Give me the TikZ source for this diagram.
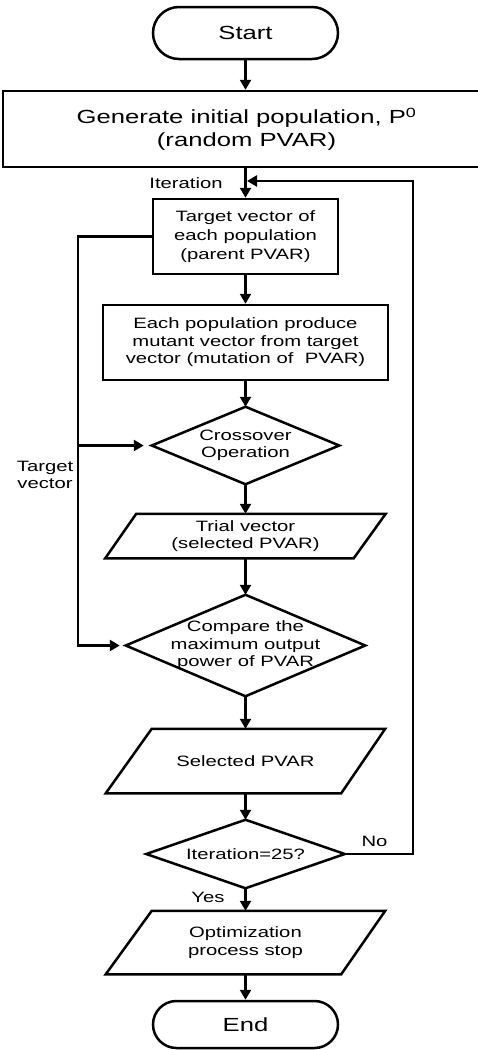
\documentclass[tikz,border=0pt]{standalone}
\usepackage{fontspec}
\newfontfamily\diafont[FakeStretch=1.35]{Liberation Sans}
\usetikzlibrary{arrows.meta}
\begin{document}
\begin{tikzpicture}[x=1pt,y=-1pt,line width=2.5pt,line join=miter,
  txt/.style={font=\diafont\fontsize{15}{17.5}\selectfont,align=center,inner sep=0pt},
  bigtxt/.style={font=\diafont\fontsize{19}{23}\selectfont,align=center,inner sep=0pt},
  boxn/.style={txt,draw,rectangle},
  shapen/.style={txt,rectangle},
  term/.style={bigtxt,draw,rectangle,minimum width=185pt},
  arr/.style={-{Triangle[length=10pt,width=11pt]}}]
\useasboundingbox (0,0) rectangle (478,1050);
% nodes
\node[term,minimum height=52pt,rounded corners=26pt] (start) at (245.5,33) {Start};
\node[bigtxt,draw,rectangle,minimum width=487pt,minimum height=76pt] (gen) at (246.5,129)
  {Generate initial population, P\textsuperscript{0}\\(random PVAR)};
\node[boxn,minimum width=185pt,minimum height=75pt,font=\diafont\fontsize{15}{19}\selectfont] (target) at (245.5,236.5)
  {Target vector of\\each population\\(parent PVAR)};
\node[boxn,minimum width=285pt,minimum height=75pt] (each) at (245.5,342.5)
  {Each population produce\\mutant vector from target\\vector (mutation of\ \ PVAR)};
\node[shapen,minimum width=185pt,minimum height=75pt] (cross) at (245.5,445.5)
  {Crossover\\Operation};
\node[shapen,minimum width=278pt,minimum height=42pt] (trial) at (245.5,536)
  {Trial vector\\(selected PVAR)};
\node[shapen,minimum width=237pt,minimum height=99pt] (cmp) at (245.5,645.5)
  {Compare the\\maximum output\\power of PVAR};
\node[shapen,minimum width=277pt,minimum height=62pt] (sel) at (245.5,761)
  {Selected PVAR};
\node[shapen,minimum width=196pt,minimum height=66pt] (iter) at (245.5,854)
  {Iteration=25?};
\node[shapen,minimum width=277pt,minimum height=61pt] (opt) at (245.5,942.5)
  {Optimization\\process stop};
\node[term,minimum height=47pt,rounded corners=23.5pt] (end) at (245.5,1024.5) {End};
% shape outlines
\draw (cross.north) -- (cross.east) -- (cross.south) -- (cross.west) -- cycle;
\draw (cmp.north) -- (cmp.east) -- (cmp.south) -- (cmp.west) -- cycle;
\draw (iter.north) -- (iter.east) -- (iter.south) -- (iter.west) -- cycle;
\draw ([xshift=31pt]trial.north west) -- (trial.north east) -- ([xshift=-32pt]trial.south east) -- (trial.south west) -- cycle;
\draw ([xshift=46pt]sel.north west) -- (sel.north east) -- ([xshift=-44pt]sel.south east) -- (sel.south west) -- cycle;
\draw ([xshift=46pt]opt.north west) -- (opt.north east) -- ([xshift=-44pt]opt.south east) -- (opt.south west) -- cycle;
% labels
\node[txt] (itl) at (186,183) {Iteration};
\node[txt] (tvl) at (45,475) {Target\\vector};
\node[txt] (nol) at (374.5,841) {No};
\node[txt] (yesl) at (208,897) {Yes};
% connectors
\coordinate (merge) at (245.5,181);
\coordinate (lb) at (79,445.5);
\draw[arr] (start.south) -- (start.south |- gen.north);
\draw[arr] (start.south |- gen.south) -- (target.north);
\draw[arr] (target.south) -- (each.north);
\draw[arr] (each.south) -- (cross.north);
\draw[arr] (cross.south) -- (trial.north);
\draw[arr] (trial.south) -- (cmp.north);
\draw[arr] (cmp.south) -- (sel.north);
\draw[arr] (sel.south) -- (iter.north);
\draw[arr] (iter.south) -- (opt.north);
\draw[arr] (opt.south) -- (end.north);
\draw[arr,shorten >=1.5pt] (iter.east) -- ++(68,0) |- (merge);
\draw[arr,shorten >=6pt] (target.west) -- ++(-74,0) |- (cmp.west);
\draw[arr,shorten >=8pt] (lb) -- (cross.west);
\end{tikzpicture}
\end{document}
